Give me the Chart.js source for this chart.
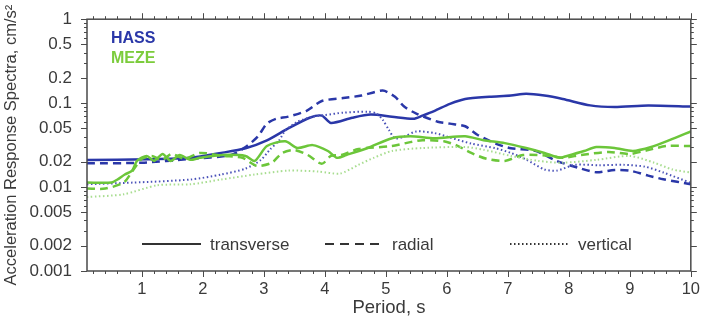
<!DOCTYPE html>
<html>
<head>
<meta charset="utf-8">
<script src="https://cdn.jsdelivr.net/npm/chart.js@4.4.0/dist/chart.umd.min.js"></script>
<style>
  html, body { margin: 0; padding: 0; background: #fff; }
  #wrap { width: 703px; height: 326px; }
</style>
</head>
<body>
<div id="wrap"><canvas id="spectra" width="703" height="326"></canvas></div>
<script>
// periods (s) and response spectra (cm/s^2)
const hassTransP = [0.1, 1.1, 1.8, 2.3, 2.7, 3.05, 3.4, 3.75, 3.95, 4.1, 4.45, 4.75, 5.1, 5.45, 5.6, 5.8, 6.05, 6.3, 6.7, 7.05, 7.3, 7.6, 7.9, 8.35, 8.75, 9.3, 10];
const hassTransA = [0.021, 0.0214, 0.0223, 0.0255, 0.029, 0.036, 0.050, 0.067, 0.071, 0.058, 0.067, 0.073, 0.069, 0.065, 0.071, 0.081, 0.098, 0.112, 0.119, 0.123, 0.129, 0.123, 0.112, 0.094, 0.090, 0.094, 0.091];

const hassRadP = [0.1, 1.0, 1.8, 2.45, 2.7, 2.9, 3.05, 3.2, 3.4, 3.7, 3.95, 4.3, 4.6, 4.95, 5.15, 5.3, 5.5, 5.85, 6.05, 6.3, 6.5, 6.8, 7.05, 7.45, 7.8, 8.15, 8.45, 8.75, 9.0, 9.3, 9.55, 10];
const hassRadA = [0.0192, 0.0195, 0.0217, 0.024, 0.030, 0.040, 0.057, 0.065, 0.069, 0.081, 0.106, 0.115, 0.123, 0.141, 0.119, 0.091, 0.075, 0.060, 0.057, 0.053, 0.042, 0.033, 0.029, 0.027, 0.0205, 0.017, 0.015, 0.016, 0.0157, 0.0137, 0.0124, 0.0108];

const hassVertP = [0.1, 0.85, 1.8, 2.3, 2.7, 2.95, 3.1, 3.25, 3.35, 3.55, 3.8, 4.0, 4.3, 4.7, 4.85, 4.95, 5.05, 5.15, 5.3, 5.5, 5.8, 6.05, 6.4, 6.8, 7.05, 7.3, 7.6, 7.8, 8.1, 8.5, 8.9, 9.25, 9.55, 10];
const hassVertA = [0.0108, 0.0113, 0.0123, 0.0141, 0.0166, 0.021, 0.028, 0.036, 0.047, 0.060, 0.069, 0.072, 0.077, 0.079, 0.075, 0.063, 0.048, 0.038, 0.040, 0.046, 0.044, 0.039, 0.033, 0.029, 0.0255, 0.0213, 0.0162, 0.0157, 0.0184, 0.0182, 0.0184, 0.0175, 0.0149, 0.0112];

const mezeTransP = [0.1, 0.5, 0.6, 0.72, 0.84, 0.92, 1.08, 1.2, 1.34, 1.47, 1.62, 1.79, 1.95, 2.33, 2.7, 2.85, 3.05, 3.35, 3.55, 3.8, 4.05, 4.2, 4.35, 4.7, 5.1, 5.4, 5.8, 6.3, 6.6, 6.95, 7.3, 7.6, 7.85, 7.97, 8.25, 8.45, 8.75, 9.05, 9.35, 9.65, 10];
const mezeTransA = [0.0113, 0.0113, 0.0123, 0.0141, 0.0157, 0.0205, 0.0235, 0.0205, 0.0248, 0.0205, 0.0241, 0.0211, 0.0223, 0.0241, 0.0235, 0.0205, 0.0308, 0.0352, 0.0292, 0.0316, 0.0269, 0.0223, 0.0241, 0.0292, 0.0382, 0.0403, 0.0382, 0.0403, 0.0362, 0.0334, 0.0292, 0.0255, 0.0223, 0.0235, 0.0269, 0.030, 0.0292, 0.0269, 0.030, 0.0362, 0.0461];

const mezeRadP = [0.1, 0.4, 0.7, 0.85, 1.0, 1.16, 1.33, 1.49, 1.7, 1.95, 2.33, 2.65, 2.88, 3.13, 3.3, 3.5, 3.72, 3.95, 4.1, 4.27, 4.55, 5.1, 5.4, 5.6, 5.95, 6.15, 6.4, 6.65, 6.95, 7.25, 7.7, 7.9, 8.2, 8.65, 9.0, 9.3, 9.6, 10];
const mezeRadA = [0.0096, 0.0096, 0.0113, 0.0157, 0.0217, 0.0235, 0.0211, 0.0248, 0.0217, 0.0255, 0.0235, 0.0223, 0.0179, 0.0195, 0.0255, 0.0276, 0.0241, 0.0189, 0.0235, 0.0241, 0.0284, 0.0308, 0.0343, 0.0362, 0.0352, 0.0316, 0.0255, 0.0217, 0.0205, 0.0241, 0.0235, 0.0223, 0.0241, 0.0262, 0.0248, 0.0276, 0.0308, 0.0308];

const mezeVertP = [0.1, 0.7, 1.25, 1.8, 2.3, 2.85, 3.4, 3.9, 4.25, 4.55, 4.8, 5.1, 5.6, 6.3, 6.6, 7.05, 7.5, 7.9, 8.45, 9.0, 9.4, 9.7, 10];
const mezeVertA = [0.0076, 0.0082, 0.0105, 0.0108, 0.0123, 0.0141, 0.0157, 0.0153, 0.0145, 0.0184, 0.0223, 0.0269, 0.0292, 0.030, 0.0279, 0.0235, 0.0205, 0.0195, 0.0211, 0.0235, 0.0195, 0.0162, 0.0149];

const xTicks = [1, 2, 3, 4, 5, 6, 7, 8, 9, 10];
const yTicks = [0.001, 0.002, 0.005, 0.01, 0.02, 0.05, 0.1, 0.2, 0.5, 1];
const yTickLabels = ['0.001', '0.002', '0.005', '0.01', '0.02', '0.05', '0.1', '0.2', '0.5', '1'];
const stations = ['HASS', 'MEZE'];
const components = ['transverse', 'radial', 'vertical'];

const BLUE = '#2a37a8';
const GREEN = '#6cc63a';
const TEXT = '#3a3a3a';
const FONT = '"Liberation Sans", Arial, sans-serif';

const pts = (p, a) => p.map((v, i) => ({ x: v, y: a[i] }));

function series(label, p, a, color, dash, width) {
  return {
    label, data: pts(p, a),
    borderColor: color, borderWidth: width, borderDash: dash,
    pointRadius: 0, tension: 0.25, fill: false
  };
}

// frame, minor ticks and the in-plot legends
const framePlugin = {
  id: 'frame',
  afterDatasetsDraw(chart) {
    const { ctx, chartArea: a, scales: { x, y } } = chart;
    ctx.save();
    ctx.strokeStyle = '#4a4a4a';
    ctx.lineWidth = 1;
    ctx.beginPath();
    for (let i = 1; i <= 50; i++) {
      const v = i / 5;
      const len = i % 5 === 0 ? 6 : 3;
      const px = Math.round(x.getPixelForValue(v)) + 0.5;
      ctx.moveTo(px, a.bottom); ctx.lineTo(px, a.bottom + len);
      ctx.moveTo(px, a.top); ctx.lineTo(px, a.top - len);
    }
    [0.001, 0.01, 0.1].forEach(d => {
      for (let m = 1; m <= 9; m++) {
        const len = (m === 1 || m === 2 || m === 5) ? 6 : 3;
        const py = Math.round(y.getPixelForValue(d * m)) + 0.5;
        ctx.moveTo(a.left, py); ctx.lineTo(a.left - len, py);
        ctx.moveTo(a.right, py); ctx.lineTo(a.right + len, py);
      }
    });
    const top = Math.round(y.getPixelForValue(1)) + 0.5;
    ctx.moveTo(a.left, top); ctx.lineTo(a.left - 6, top);
    ctx.moveTo(a.right, top); ctx.lineTo(a.right + 6, top);
    ctx.stroke();

    ctx.lineWidth = 1.5;
    ctx.strokeRect(a.left, a.top, a.right - a.left, a.bottom - a.top);

    // station names
    ctx.font = 'bold 16px ' + FONT;
    ctx.textAlign = 'left';
    ctx.textBaseline = 'middle';
    ctx.fillStyle = BLUE;
    ctx.fillText(stations[0], 111, 39);
    ctx.fillStyle = '#7ccc3c';
    ctx.fillText(stations[1], 111, 59);

    // component line styles
    const ly = 244;
    const keys = [
      { x0: 142, x1: 201, tx: 210, dash: [] },
      { x0: 325, x1: 381, tx: 392, dash: [9, 6] },
      { x0: 510, x1: 570, tx: 578, dash: [1.5, 2.5] }
    ];
    ctx.strokeStyle = '#333';
    ctx.lineWidth = 2;
    ctx.font = '17px ' + FONT;
    ctx.fillStyle = TEXT;
    keys.forEach((k, i) => {
      ctx.setLineDash(k.dash);
      ctx.beginPath();
      ctx.moveTo(k.x0, ly); ctx.lineTo(k.x1, ly);
      ctx.stroke();
      ctx.fillText(components[i], k.tx, ly + 1);
    });
    ctx.restore();
  }
};

new Chart(document.getElementById('spectra'), {
  type: 'line',
  data: {
    datasets: [
      series('MEZE vertical', mezeVertP, mezeVertA, '#a8dd90', [1.5, 2.5], 2),
      series('MEZE radial', mezeRadP, mezeRadA, GREEN, [8, 5], 2.5),
      series('MEZE transverse', mezeTransP, mezeTransA, GREEN, [], 2.5),
      series('HASS vertical', hassVertP, hassVertA, '#4a52b8', [1.5, 2.5], 2),
      series('HASS radial', hassRadP, hassRadA, BLUE, [8, 5], 2.5),
      series('HASS transverse', hassTransP, hassTransA, BLUE, [], 2.5)
    ]
  },
  options: {
    responsive: false,
    animation: false,
    devicePixelRatio: 1,
    layout: { padding: { left: 0, right: 11, top: 13, bottom: 0 } },
    plugins: { legend: { display: false }, tooltip: { enabled: false } },
    scales: {
      x: {
        type: 'linear', min: 0.1, max: 10,
        afterBuildTicks: s => { s.ticks = xTicks.map(v => ({ value: v })); },
        afterFit: s => { s.height = 55; },
        grid: { display: false, tickLength: 6 },
        border: { display: false },
        ticks: { color: TEXT, font: { family: FONT, size: 16.5 }, padding: 3, maxRotation: 0, autoSkip: false },
        title: { display: true, text: 'Period, s', color: TEXT, font: { family: FONT, size: 18.5 }, padding: { top: 0, bottom: 7 } }
      },
      y: {
        type: 'logarithmic', min: 0.001, max: 1,
        afterBuildTicks: s => { s.ticks = yTicks.map(v => ({ value: v })); },
        afterFit: s => { s.width = 87; },
        grid: { display: false, tickLength: 6 },
        border: { display: false },
        ticks: { color: TEXT, font: { family: FONT, size: 17 }, padding: 9, autoSkip: false,
                 callback: (v, i) => yTickLabels[i] },
        title: { display: true, text: 'Acceleration Response Spectra, cm/s²', color: TEXT, font: { family: FONT, size: 16.5 }, padding: { top: 2, bottom: 0 } }
      }
    }
  },
  plugins: [framePlugin]
});
</script>
</body>
</html>
